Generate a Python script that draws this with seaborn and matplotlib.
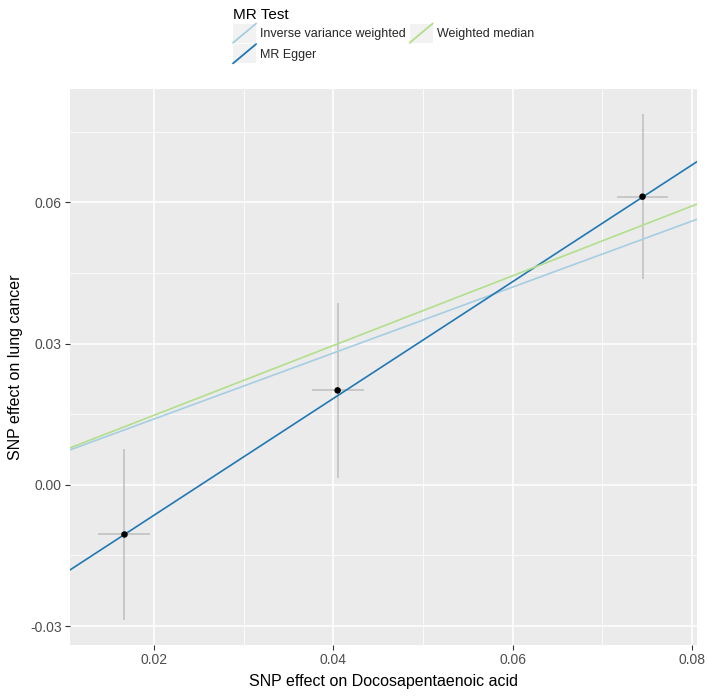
import matplotlib
matplotlib.use('Agg')
import matplotlib.pyplot as plt
import seaborn as sns
import pandas as pd
from matplotlib.legend_handler import HandlerBase
from matplotlib.patches import Rectangle
from matplotlib.lines import Line2D
from matplotlib.ticker import FixedLocator, FormatStrFormatter

# SNP level estimates
snp_exposure = [0.01668, 0.04047, 0.0745]
snp_exposure_se = [0.0029, 0.0029, 0.0029]
snp_outcome = [-0.01054, 0.02006, 0.0612]
snp_outcome_se = [0.0181, 0.0186, 0.0175]

# MR method fits
methods = ['Inverse variance weighted', 'MR Egger', 'Weighted median']
slopes = [0.700, 1.239, 0.740]
intercepts = [0.0, -0.0312, 0.0]

x_ticks = [0.02, 0.04, 0.06, 0.08]
y_ticks = [-0.03, 0.00, 0.03, 0.06]


class KeyHandler(HandlerBase):
    # ggplot style legend key: grey square with a diagonal line
    def create_artists(self, legend, orig_handle, xdescent, ydescent, width, height, fontsize, trans):
        bg = Rectangle((-xdescent, -ydescent), width, height, facecolor='#F2F2F2',
                       edgecolor='none', transform=trans)
        ln = Line2D([-xdescent, -xdescent + width], [-ydescent, -ydescent + height],
                    color=orig_handle.get_color(), lw=1.3, transform=trans)
        return [bg, ln]


def main():
    sns.set_theme(style='darkgrid')
    plt.rcParams['font.family'] = ['Liberation Sans', 'DejaVu Sans']

    df = pd.DataFrame({'exposure': snp_exposure, 'exposure_se': snp_exposure_se,
                       'outcome': snp_outcome, 'outcome_se': snp_outcome_se})
    colors = sns.color_palette('Paired')
    method_colors = [colors[0], colors[1], colors[2]]

    fig = plt.figure(figsize=(7.09, 6.96), dpi=100)
    ax = fig.add_axes([70 / 709, 51 / 696, 627 / 709, 556 / 696])
    ax.set_facecolor('#EBEBEB')

    ax.errorbar(df['exposure'], df['outcome'], yerr=df['outcome_se'], fmt='none',
                ecolor='#BEBEBE', elinewidth=1.1, capsize=0, zorder=2)
    ax.errorbar(df['exposure'], df['outcome'], xerr=df['exposure_se'], fmt='none',
                ecolor='#BEBEBE', elinewidth=1.1, capsize=0, zorder=2)

    handles = []
    for name, b, a, c in zip(methods, slopes, intercepts, method_colors):
        ax.axline((0, a), slope=b, color=c, lw=1.2, zorder=3)
        handles.append(Line2D([], [], color=c, label=name))

    sns.scatterplot(data=df, x='exposure', y='outcome', color='black', s=22,
                    edgecolor='none', zorder=4, ax=ax)

    # ggplot-like 5% expansion of the data range
    xmin = min(e - s for e, s in zip(snp_exposure, snp_exposure_se))
    xmax = max(e + s for e, s in zip(snp_exposure, snp_exposure_se))
    ymin = min(e - s for e, s in zip(snp_outcome, snp_outcome_se))
    ymax = max(e + s for e, s in zip(snp_outcome, snp_outcome_se))
    ax.set_xlim(xmin - 0.05 * (xmax - xmin), xmax + 0.05 * (xmax - xmin))
    ax.set_ylim(ymin - 0.05 * (ymax - ymin), ymax + 0.05 * (ymax - ymin))

    ax.xaxis.set_major_locator(FixedLocator(x_ticks))
    ax.yaxis.set_major_locator(FixedLocator(y_ticks))
    ax.xaxis.set_minor_locator(FixedLocator([0.01, 0.03, 0.05, 0.07]))
    ax.yaxis.set_minor_locator(FixedLocator([-0.045, -0.015, 0.015, 0.045, 0.075]))
    ax.xaxis.set_major_formatter(FormatStrFormatter('%.2f'))
    ax.yaxis.set_major_formatter(FormatStrFormatter('%.2f'))
    ax.grid(which='major', color='white', lw=1.1)
    ax.grid(which='minor', color='white', lw=0.55)
    for s in ax.spines.values():
        s.set_visible(False)
    ax.tick_params(axis='both', which='major', direction='out', length=3.5, width=0.8,
                   color='#333333', labelcolor='#4D4D4D', labelsize=10, pad=2.5,
                   bottom=True, left=True)
    ax.tick_params(which='minor', length=0)

    ax.set_xlabel('SNP effect on Docosapentaenoic acid', fontsize=11.5, color='black', labelpad=5)
    ax.set_ylabel('SNP effect on lung cancer', fontsize=11.5, color='black', labelpad=5)

    leg = ax.legend(handles=handles, labels=methods, ncol=2, loc='upper center',
                    bbox_to_anchor=(383.5 / 709, 1 - 2 / 696), bbox_transform=fig.transFigure,
                    frameon=False, title='MR Test', alignment='left', fontsize=9,
                    title_fontsize=11, handler_map={Line2D: KeyHandler()},
                    handlelength=1.85, handleheight=2.0, handletextpad=0.32,
                    columnspacing=0.3, labelspacing=0.1, borderpad=0.0)
    leg.get_title().set_color('black')

    fig.savefig('out.png', dpi=100)


if __name__ == '__main__':
    main()
